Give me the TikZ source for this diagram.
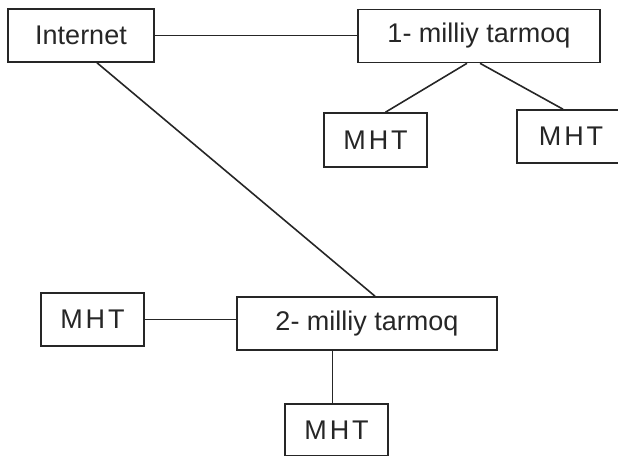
\documentclass[tikz,border=0pt]{standalone}
\usepackage{fontspec}
\setmainfont{Liberation Sans}
\begin{document}
\begin{tikzpicture}[x=1pt,y=-1pt,
  box/.style={draw=black!85,line width=1.6pt,rectangle,inner sep=0pt,
    font=\fontsize{27}{29}\selectfont,text=black!85},
  link/.style={draw=black!85,line width=1.6pt}]
\useasboundingbox (0,0) rectangle (618,455);
\clip (0,0) rectangle (618,455);
\node[box,minimum width=146pt,minimum height=53pt] (inet) at (81,35.5) {Internet};
\node[box,minimum width=242pt,minimum height=53pt] (n1) at (479,36) {1- milliy tarmoq};
\node[box,minimum width=103pt,minimum height=54pt] (m1) at (375.5,140) {M\kern3pt H\kern3pt T};
\node[box,minimum width=108pt,minimum height=53pt] (m2) at (571,136.5) {M\kern3pt H\kern3pt T};
\node[box,minimum width=103pt,minimum height=53pt] (mL) at (92.5,319.5) {M\kern3pt H\kern3pt T};
\node[box,minimum width=260pt,minimum height=53pt] (n2) at (367,323.5) {2- milliy tarmoq};
\node[box,minimum width=103pt,minimum height=52pt] (mB) at (336.5,430) {M\kern3pt H\kern3pt T};
\draw[link] (inet.east) -- (inet.east -| n1.west);
\draw[link] ([xshift=-12pt]n1.south) -- ([xshift=10pt]m1.north);
\draw[link] ([xshift=1pt]n1.south) -- ([xshift=-8pt]m2.north);
\draw[link] ([xshift=16pt]inet.south) -- ([xshift=8pt]n2.north);
\draw[link] (mL.east) -- (mL.east -| n2.west);
\draw[link] ([xshift=-4pt]mB.north) -- ([xshift=-4pt]mB.north |- n2.south);
\end{tikzpicture}
\end{document}
